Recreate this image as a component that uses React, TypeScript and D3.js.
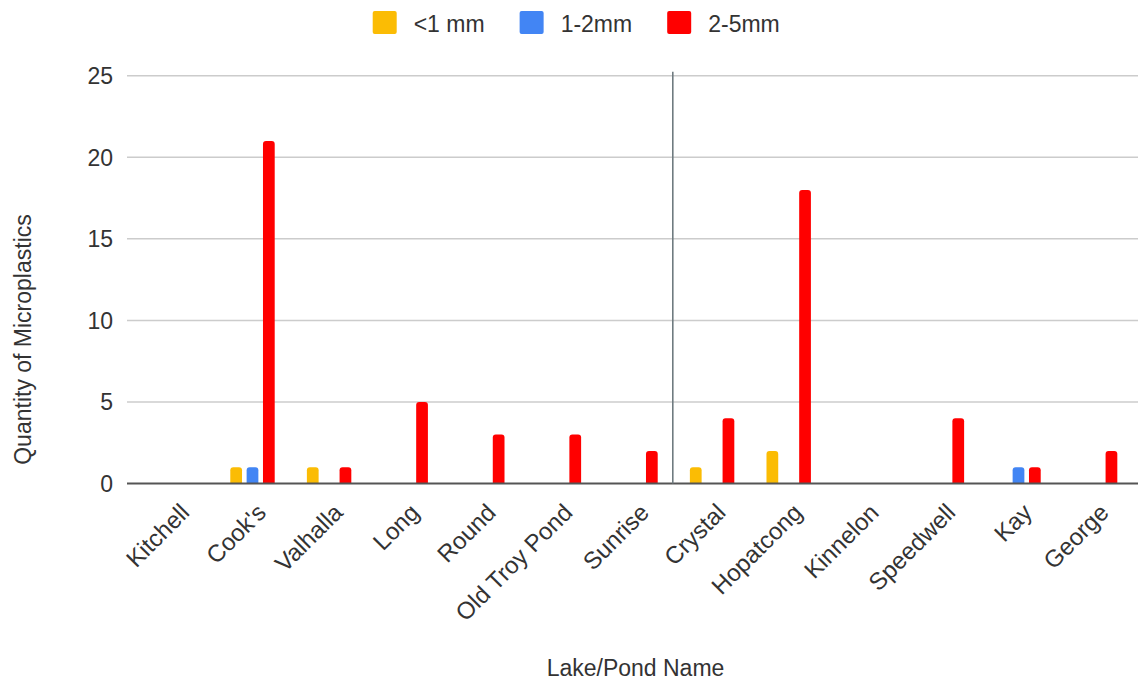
import React from "react";
import * as d3 from "d3";

// Microplastic counts per lake, split by particle size
const lakes = [
  "Kitchell", "Cook's", "Valhalla", "Long", "Round", "Old Troy Pond", "Sunrise",
  "Crystal", "Hopatcong", "Kinnelon", "Speedwell", "Kay", "George",
];
const seriesNames = ["<1 mm", "1-2mm", "2-5mm"];
const under1mm = [0, 1, 1, 0, 0, 0, 0, 1, 2, 0, 0, 0, 0];
const from1to2mm = [0, 1, 0, 0, 0, 0, 0, 0, 0, 0, 0, 1, 0];
const from2to5mm = [0, 21, 1, 5, 3, 3, 2, 4, 18, 0, 4, 1, 2];
const yTicks = [0, 5, 10, 15, 20, 25];
// the divider sits between these two lakes
const dividerBetween = ["Sunrise", "Crystal"];

const seriesValues = [under1mm, from1to2mm, from2to5mm];
const colors = ["#fbbc04", "#4285f4", "#ff0000"];

const W = 1138;
const H = 685;
const FONT = "'Liberation Sans', Arial, Helvetica, sans-serif";
const FS = 23;
const FS_X = 24;
const TEXT = "#333333";

function measure(text: string): number {
  if (typeof document === "undefined") return text.length * FS * 0.55;
  const c = document.createElement("canvas").getContext("2d");
  if (!c) return text.length * FS * 0.55;
  c.font = `${FS}px ${FONT}`;
  return c.measureText(text).width;
}

// bar with rounded top corners
function barPath(x: number, y: number, w: number, h: number, r: number) {
  const rr = Math.min(r, w / 2, h);
  const p = d3.path();
  p.moveTo(x, y + h);
  p.lineTo(x, y + rr);
  p.quadraticCurveTo(x, y, x + rr, y);
  p.lineTo(x + w - rr, y);
  p.quadraticCurveTo(x + w, y, x + w, y + rr);
  p.lineTo(x + w, y + h);
  p.closePath();
  return p.toString();
}

export default function App() {
  const plotLeft = 137.6;
  const plotRight = 1133.4;
  const gridLeft = 127;
  const gridRight = 1138;
  const y0 = 483.5;
  const yTop = 75.7;

  const x = d3
    .scaleBand<string>()
    .domain(lakes)
    .range([plotLeft, plotRight])
    .paddingInner(0.42)
    .paddingOuter(0.21);

  const inner = d3
    .scaleBand<number>()
    .domain([0, 1, 2])
    .range([0, x.bandwidth()])
    .paddingInner(0.282);

  const y = d3.scaleLinear().domain([0, 25]).range([y0, yTop]);

  const center = (name: string) => (x(name) as number) + x.bandwidth() / 2;
  const dividerX = (center(dividerBetween[0]) + center(dividerBetween[1])) / 2 - 1;

  // legend layout
  const sq = 24;
  const legendItems: { name: string; color: string; x: number }[] = [];
  let lx = 372.7;
  seriesNames.forEach((name, i) => {
    legendItems.push({ name, color: colors[i], x: lx });
    lx += sq + 17 + measure(name) + 35;
  });

  return (
    <svg
      width={W}
      height={H}
      style={{ position: "absolute", left: 0, top: 0, background: "#fff" }}
      fontFamily={FONT}
    >
      <rect x={0} y={0} width={W} height={H} fill="#ffffff" />

      {/* legend */}
      {legendItems.map((it) => (
        <g key={it.name}>
          <rect x={it.x} y={11} width={sq} height={sq - 1} rx={2} fill={it.color} />
          <text x={it.x + sq + 17} y={31.5} fontSize={FS} fill={TEXT}>
            {it.name}
          </text>
        </g>
      ))}

      {/* gridlines */}
      {yTicks.map((t) =>
        t === 0 ? null : (
          <line
            key={t}
            x1={gridLeft}
            x2={gridRight}
            y1={y(t)}
            y2={y(t)}
            stroke="#cccccc"
            strokeWidth={1.5}
          />
        )
      )}

      {/* y tick labels */}
      {yTicks.map((t) => (
        <text
          key={t}
          x={113}
          y={y(t)}
          dy="0.36em"
          textAnchor="end"
          fontSize={FS}
          fill={TEXT}
        >
          {t}
        </text>
      ))}

      {/* bars */}
      {lakes.map((lake, li) => (
        <g key={lake}>
          {seriesValues.map((vals, si) => {
            const v = vals[li];
            if (!v) return null;
            const bx = (x(lake) as number) + (inner(si) as number);
            const by = y(v);
            return (
              <path
                key={si}
                d={barPath(bx, by, inner.bandwidth(), y0 - by, 3)}
                fill={colors[si]}
              />
            );
          })}
        </g>
      ))}

      {/* baseline */}
      <line x1={gridLeft} x2={gridRight} y1={y0} y2={y0} stroke="#555555" strokeWidth={2} />

      {/* divider */}
      <line
        x1={dividerX}
        x2={dividerX}
        y1={y(25) - 4}
        y2={y0}
        stroke="#6f7b80"
        strokeWidth={1.6}
      />

      {/* x tick labels */}
      {lakes.map((lake) => (
        <text
          key={lake}
          transform={`translate(${center(lake) + 15},${514}) rotate(-45)`}
          textAnchor="end"
          fontSize={FS_X}
          fill={TEXT}
        >
          {lake}
        </text>
      ))}

      {/* axis titles */}
      <text
        x={(plotLeft + plotRight) / 2}
        y={676}
        textAnchor="middle"
        fontSize={FS}
        fill={TEXT}
      >
        Lake/Pond Name
      </text>
      <text
        transform={`translate(31,339.5) rotate(-90)`}
        textAnchor="middle"
        fontSize={FS}
        fill={TEXT}
      >
        Quantity of Microplastics
      </text>
    </svg>
  );
}
